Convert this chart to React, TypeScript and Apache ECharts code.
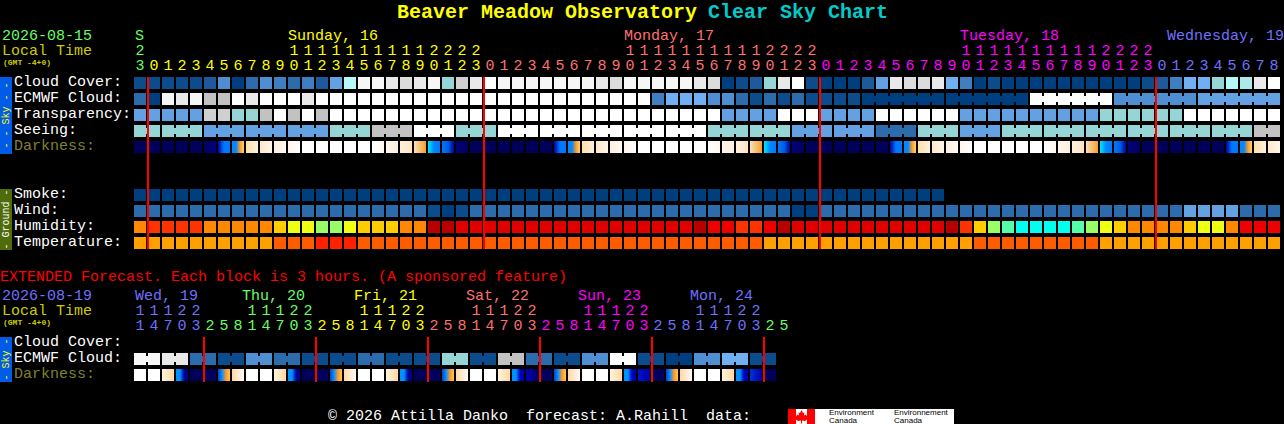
import React, { useEffect, useRef } from "react";
import * as echarts from "echarts";

const MONO = '"Liberation Mono", "DejaVu Sans Mono", monospace';

// ---- colours by key ----
const palette: Record<string, string> = {
  a: "#003f7f", b: "#0d4c8c", q: "#1c5a9b", c: "#2c6cad", d: "#3f7fc1", e: "#4f8fd1", f: "#63a1e3", g: "#70b0f2",
  t: "#95d5d5", u: "#ade9e9", h: "#b4f8f8", w: "#ffffff", x: "#f6f6f6", y: "#e9e9e9", z: "#dcdcdc", s: "#c2c2c2", v: "#d0d0d0",
  R: "#ff3300", O: "#ff8800", G: "#ffcc00", L: "#eeff11", K: "#99ff66", M: "#55ffaa", N: "#00ffee", E: "#e00000", F: "#ee0000", D: "#b80000",
  T: "#ffa000", U: "#ff5c00", V: "#ff2000",
};
const gradients: Record<string, string[]> = {
  n: ["#00005a"], m: ["#00005a", "#000085"], p: ["#0000a0", "#0078ff", "#0078ff"],
  r: ["#0088ff", "#0088ff", "#ff9a20", "#ffd080"], A: ["#ffe0a8", "#fff0dc"], B: ["#ffe8c8", "#fff6ea"], C: ["#fff0dc", "#fffaf4"], P: ["#fff6ec", "#ffffff"],
  W: ["#ffffff"], Q: ["#ffffff", "#fff8f0"], S: ["#fff6ec", "#ffefd8"], H: ["#fff0dc", "#ffe4c0"], I: ["#ffe0b0", "#f0a030"],
  J: ["#00e8f0", "#0088ff", "#0078ff"], X: ["#0078ff", "#0060e0", "#0000a0"], Y: ["#000080", "#00005a"],
  Z: ["#fff2e0", "#ffd8a0"], o: ["#0090ff", "#0090ff", "#0000a0", "#000080"], k: ["#0040e0", "#0090ff", "#ff9a20", "#ffc060"], l: ["#ffd8a8", "#fffaf4"],
  i: ["#0090ff", "#0090ff", "#0000c0", "#0000a0"], j: ["#0000c0", "#000060"], ka: ["#0010d0", "#0000a0"], kb: ["#0030e0", "#0000a0"],
};

// ---- hourly forecast ----
const hours = [23, 0, 1, 2, 3, 4, 5, 6, 7, 8, 9, 10, 11, 12, 13, 14, 15, 16, 17, 18, 19, 20, 21, 22, 23, 0, 1, 2, 3, 4, 5, 6, 7, 8, 9, 10, 11, 12, 13, 14, 15, 16, 17, 18, 19, 20, 21, 22, 23, 0, 1, 2, 3, 4, 5, 6, 7, 8, 9, 10, 11, 12, 13, 14, 15, 16, 17, 18, 19, 20, 21, 22, 23, 0, 1, 2, 3, 4, 5, 6, 7, 8];
const hourDays = ["sat", "sun", "sun", "sun", "sun", "sun", "sun", "sun", "sun", "sun", "sun", "sun", "sun", "sun", "sun", "sun", "sun", "sun", "sun", "sun", "sun", "sun", "sun", "sun", "sun", "mon", "mon", "mon", "mon", "mon", "mon", "mon", "mon", "mon", "mon", "mon", "mon", "mon", "mon", "mon", "mon", "mon", "mon", "mon", "mon", "mon", "mon", "mon", "mon", "tue", "tue", "tue", "tue", "tue", "tue", "tue", "tue", "tue", "tue", "tue", "tue", "tue", "tue", "tue", "tue", "tue", "tue", "tue", "tue", "tue", "tue", "tue", "tue", "wed", "wed", "wed", "wed", "wed", "wed", "wed", "wed", "wed"];
const dayColors: Record<string, string> = { sat: "#66ff66", sun: "#ffff00", mon: "#ff7070", tue: "#ff00ff", wed: "#7070ff" };
const rowLabels = ["Cloud Cover:", "ECMWF Cloud:", "Transparency:", "Seeing:", "Darkness:", "", "", "Smoke:", "Wind:", "Humidity:", "Temperature:"];

const cloudCover = ["b","b","b","b","b","q","e","a","c","e","d","c","d","q","f","h","x","x","y","z","y","x","t","v","y","w","x","x","x","x","x","x","x","y","z","x","x","x","x","x","y","z","a","b","q","t","y","w","b","a","a","a","q","f","y","z","z","y","g","d","a","b","a","a","a","a","a","a","a","a","a","a","b","q","d","g","g","t","h","u","y","w"];
const ecmwfCloud = ["c","a","x","y","x","s","s","w","y","w","w","w","y","w","w","w","w","w","w","w","w","w","w","w","w","w","w","w","w","w","w","w","w","w","w","w","w","d","g","g","g","e","e","c","b","c","b","c","b","b","b","b","a","a","a","a","a","a","a","a","a","a","a","a","w","w","w","w","w","w","e","e","e","e","e","e","f","f","f","f","f","f"];
const ecmwfBlocks = [1,1,1,1,1,1,1,1,1,1,1,1,1,1,1,1,1,1,1,1,1,1,1,1,1,1,1,1,1,1,1,1,1,1,1,1,1,1,1,1,1,1,1,1,1,1,1,1,1,1,1,1,6,6,6,6,6];
const transparency = ["f","f","f","f","f","v","v","t","t","s","w","s","w","s","w","w","w","w","w","w","w","w","w","w","w","w","w","w","w","w","w","w","w","w","w","w","w","w","w","w","w","w","f","f","f","f","w","w","w","f","f","f","f","w","w","w","w","w","w","f","f","f","f","f","f","f","f","f","f","t","t","t","t","t","t","w","w","w","w","w","w","w"];
const seeing = ["t","t","t","t","t","f","f","f","f","f","f","f","f","f","t","t","t","s","s","s","w","w","w","t","t","t","w","w","w","w","w","w","w","w","w","w","w","w","w","w","w","t","t","t","t","t","t","f","f","f","f","f","f","c","c","c","t","t","t","f","f","f","t","t","t","t","t","t","t","t","t","t","t","t","t","t","t","t","t","t","s","s"];
const seeingBlocks = [2,3,3,3,3,3,3,3,3,3,3,3,3,3,3,3,3,3,3,3,3,3,3,3,3,3,3,2];
const darkness = ["n","n","n","n","n","m","p","r","A","B","C","P","W","W","W","W","W","Q","S","H","I","J","X","Y","n","n","n","n","n","n","p","r","A","B","C","P","W","W","W","W","W","Q","S","H","I","J","X","Y","n","n","n","n","n","n","p","r","A","B","C","P","W","W","W","W","W","Q","S","H","I","J","X","Y","n","n","n","n","n","n","p","r","A","B"];
const smoke = ["a","a","a","a","a","a","a","a","a","a","a","a","a","a","a","a","a","a","a","a","a","a","a","a","a","a","a","a","a","a","a","a","a","a","a","a","a","a","a","a","a","a","a","a","a","a","a","a","a","a","a","a","a","a","a","a","a","a"];
const wind = ["c","c","c","c","c","c","c","c","c","c","c","c","c","c","c","c","c","c","c","c","c","b","a","b","c","c","c","c","c","c","c","c","c","c","c","c","c","c","c","c","c","c","c","c","c","c","c","a","a","c","c","c","c","c","c","c","c","c","c","c","c","c","c","c","c","c","c","c","c","c","c","c","c","c","c","f","f","f","f","c","c","c"];
const humidity = ["O","R","R","R","R","O","O","O","O","O","G","L","L","K","K","L","G","G","G","O","O","D","D","E","E","E","E","E","E","E","E","E","E","E","E","E","E","E","E","E","D","F","F","R","R","F","D","E","E","E","E","E","E","E","E","E","E","E","D","R","G","K","M","N","N","N","N","M","K","L","G","O","O","O","O","G","L","L","O","F","F","F"];
const temperature = ["T","T","T","T","T","T","T","T","T","T","U","U","U","V","V","V","U","U","U","U","U","U","U","U","U","U","U","U","U","U","U","U","U","U","U","U","U","U","U","U","U","U","U","U","U","T","T","T","T","T","T","T","T","T","T","T","T","T","T","T","U","U","U","U","U","U","U","U","U","T","T","T","T","T","T","T","T","T","T","T","T","T"];
const midnightColumns = [1, 25, 49, 73];

// ---- extended forecast ----
const extHours = [11, 14, 17, 20, 23, 2, 5, 8, 11, 14, 17, 20, 23, 2, 5, 8, 11, 14, 17, 20, 23, 2, 5, 8, 11, 14, 17, 20, 23, 2, 5, 8, 11, 14, 17, 20, 23, 2, 5, 8, 11, 14, 17, 20, 23, 2, 5];
const extDays = ["wed","wed","wed","wed","wed","sat","sat","sat","sat","sat","sat","sat","sat","sun","sun","sun","sun","sun","sun","sun","sun","mon","mon","mon","mon","mon","mon","mon","mon","tue","tue","tue","tue","tue","tue","tue","tue","wed","wed","wed","wed","wed","wed","wed","wed","sat","sat"];
const extRowLabels = ["Cloud Cover:", "ECMWF Cloud:", "Darkness:"];
const extEcmwf = ["x","x","y","y","c","c","b","b","e","e","c","c","b","b","b","b","c","c","b","b","b","b","t","t","b","b","s","s","c","c","b","b","e","e","w","w","b","b","a","a","e","e","g","g","b","b"];
const extBlocks = [2,2,2,2,2,2,2,2,2,2,2,2,2,2,2,2,2,2,2,2,2,2,2];
const extDarkness = ["W","W","Z","o","n","n","k","l","W","W","Z","o","n","n","k","l","W","W","Z","o","n","n","k","l","W","W","Z","i","j","n","k","l","W","W","Z","i","ka","n","k","l","W","W","Z","i","kb","n"];
const extMidnightColumns = [5, 13, 21, 29, 37, 45];

// ---- header texts ----
const dayHeaders = [
  { text: "S", x: 135, key: "sat" }, { text: "Sunday, 16", x: 288, key: "sun" }, { text: "Monday, 17", x: 624, key: "mon" },
  { text: "Tuesday, 18", x: 960, key: "tue" }, { text: "Wednesday, 19", x: 1167, key: "wed" },
];
const extDayHeaders = [
  { text: "Wed, 19", x: 135, key: "wed" }, { text: "Thu, 20", x: 242, key: "sat" }, { text: "Fri, 21", x: 354, key: "sun" },
  { text: "Sat, 22", x: 466, key: "mon" }, { text: "Sun, 23", x: 578, key: "tue" }, { text: "Mon, 24", x: 690, key: "wed" },
];

type Cell = { col: number; row: number; stops: string[]; join: boolean };

function joinsFrom(blocks: number[] | null): Set<number> {
  const out = new Set<number>();
  if (!blocks) return out;
  let pos = 0;
  for (const size of blocks) {
    for (let i = 0; i < size - 1; i++) out.add(pos + i);
    pos += size;
  }
  return out;
}

function rowCells(row: number, keys: string[], blocks: number[] | null = null): Cell[] {
  const joined = joinsFrom(blocks);
  return keys.map((key, col) => ({ col, row, stops: [palette[key]], join: joined.has(col) }));
}
function darkCells(row: number, keys: string[]): Cell[] {
  return keys.map((key, col) => ({ col, row, stops: gradients[key], join: false }));
}

const mainCells: Cell[] = [
  ...rowCells(0, cloudCover),
  ...rowCells(1, ecmwfCloud, ecmwfBlocks),
  ...rowCells(2, transparency),
  ...rowCells(3, seeing, seeingBlocks),
  ...darkCells(4, darkness),
  ...rowCells(7, smoke),
  ...rowCells(8, wind),
  ...rowCells(9, humidity),
  ...rowCells(10, temperature),
];
const extCells: Cell[] = [...rowCells(1, extEcmwf, extBlocks), ...darkCells(2, extDarkness)];

function fillOf(stops: string[]) {
  if (stops.length === 1) return stops[0];
  return new echarts.graphic.LinearGradient(0, 0, 1, 0, stops.map((color, i) => ({ offset: i / (stops.length - 1), color })));
}

function cellSeries(cells: Cell[], gridIndex: number) {
  return {
    type: "custom",
    xAxisIndex: gridIndex,
    yAxisIndex: gridIndex,
    silent: true,
    clip: false,
    z: 2,
    data: cells.map((c) => [c.col, c.row]),
    encode: { x: 0, y: 1 },
    renderItem: (params: any, api: any) => {
      const cell = cells[params.dataIndex];
      const [cx, cy] = api.coord([api.value(0), api.value(1)]);
      const fill = fillOf(cell.stops);
      const children: any[] = [{ type: "rect", z2: 1, shape: { x: cx - 6, y: cy - 7, width: 12, height: 12 }, style: { fill } }];
      if (cell.join) {
        children.push({ type: "rect", z2: 1, shape: { x: cx + 6, y: cy - 4, width: 2, height: 6 }, style: { fill: cell.stops[cell.stops.length - 1] } });
      }
      return { type: "group", children };
    },
  };
}

function midnightSeries(columns: number[], gridIndex: number, topRow: number, bottomRow: number, topPad: number, bottomPad: number) {
  return {
    type: "custom",
    xAxisIndex: gridIndex,
    yAxisIndex: gridIndex,
    silent: true,
    clip: false,
    z: 20,
    data: columns.map((c) => [c, topRow]),
    encode: { x: 0, y: 1 },
    renderItem: (_: any, api: any) => {
      const [cx, cy] = api.coord([api.value(0), topRow]);
      const [, by] = api.coord([api.value(0), bottomRow]);
      const top = cy - 8 + topPad;
      const bottom = by + 8 - bottomPad;
      return { type: "rect", z2: 100, shape: { x: cx - 7, y: top, width: 2, height: bottom - top }, style: { fill: "#ff0000" } };
    },
  };
}

function label(text: string, x: number, y: number, fill: string, font = `15px ${MONO}`) {
  return { type: "text", x, y, silent: true, style: { text, fill, font, textVerticalAlign: "middle", verticalAlign: "middle" } };
}
function sideBar(top: number, height: number, fill: string, text: string, textFill: string) {
  return [
    { type: "rect", x: 0, y: top, silent: true, shape: { width: 12, height }, style: { fill } },
    {
      type: "text",
      x: 6,
      y: top + height / 2,
      rotation: Math.PI / 2,
      silent: true,
      z: 3,
      style: { text, fill: textFill, font: `10px ${MONO}`, align: "center", textAlign: "center", verticalAlign: "middle", textVerticalAlign: "middle" },
    },
  ];
}

const xAxisFor = (gridIndex: number, values: number[], days: string[]) => ({
  type: "category",
  gridIndex,
  position: "top",
  data: values.map(String),
  axisLine: { show: false },
  axisTick: { show: false },
  splitLine: { show: false },
  axisLabel: {
    show: true,
    interval: 0,
    hideOverlap: false,
    margin: 2,
    fontFamily: MONO,
    fontSize: 15,
    lineHeight: 15,
    formatter: (v: string) => (v.length > 1 ? `${v[0]}\n${v[1]}` : v),
    color: (_: any, i: number) => dayColors[days[i]],
  },
});
const yAxisFor = (gridIndex: number, labels: string[]) => ({
  type: "category",
  gridIndex,
  inverse: true,
  data: labels,
  axisLine: { show: false },
  axisTick: { show: false },
  splitLine: { show: false },
  axisLabel: {
    show: true,
    interval: 0,
    hideOverlap: false,
    margin: 119,
    align: "left",
    fontFamily: MONO,
    fontSize: 15,
    formatter: (v: string) => (v ? `{t|${v}}` : ""),
    rich: { t: { padding: [0, 0, 4, 0], fontFamily: MONO, fontSize: 15 } },
    color: (v: string) => (v === "Darkness:" ? "#808030" : "#ffffff"),
  },
});

const maple = [
  [801.5, 410], [803, 413], [804.5, 412.5], [804, 415.5], [806, 414.5], [806.5, 416], [808.5, 415.5], [807.5, 418], [808.5, 418.5], [805, 421], [802, 420.5], [802, 423.5],
  [801, 423.5], [801, 420.5], [798, 421], [794.5, 418.5], [795.5, 418], [794.5, 415.5], [796.5, 416], [797, 414.5], [799, 415.5], [798.5, 412.5], [800, 413],
];

export default function App() {
  const ref = useRef<HTMLDivElement>(null);
  useEffect(() => {
    document.body.style.margin = "0";
    document.body.style.background = "#000";
    const chart = echarts.init(ref.current!, undefined, { renderer: "svg" });
    chart.setOption({
      animation: false,
      backgroundColor: "#000000",
      grid: [
        { left: 133, top: 76, width: 1148, height: 176, containLabel: false },
        { left: 133, top: 336, width: 658, height: 48, containLabel: false },
      ],
      xAxis: [xAxisFor(0, hours, hourDays), xAxisFor(1, extHours, extDays)],
      yAxis: [yAxisFor(0, rowLabels), yAxisFor(1, extRowLabels)],
      series: [
        cellSeries(mainCells, 0),
        cellSeries(extCells, 1),
        midnightSeries(midnightColumns, 0, 0, 10, 1, 3),
        midnightSeries(extMidnightColumns, 1, 0, 2, 1, 2),
      ],
      graphic: [
        label("Beaver Meadow Observatory", 397, 12, "#ffff00", `bold 20px ${MONO}`),
        label("Clear Sky Chart", 708, 12, "#00cccc", `bold 20px ${MONO}`),
        label("2026-08-15", 2, 36, "#66ff66"),
        label("Local Time", 2, 51, "#cccc00"),
        label("(GMT -4+0)", 3, 62, "#cccc00", `bold 8px ${MONO}`),
        ...dayHeaders.map((d) => label(d.text, d.x, 36, dayColors[d.key])),
        ...sideBar(77, 77, "#005ce6", "- - Sky - -", "#ffff00"),
        ...sideBar(189, 61, "#4f6b0a", "- Ground -", "#ffffff"),
        label("EXTENDED Forecast. Each block is 3 hours. (A sponsored feature)", 0, 277, "#ff0000"),
        label("2026-08-19", 2, 296, "#7070ff"),
        label("Local Time", 2, 311, "#cccc00"),
        label("(GMT -4+0)", 3, 322, "#cccc00", `bold 8px ${MONO}`),
        ...extDayHeaders.map((d) => label(d.text, d.x, 296, dayColors[d.key])),
        ...sideBar(337, 45, "#005ce6", "- Sky -", "#ffff00"),
        label("\u00a9 2026 Attilla Danko  forecast: A.Rahill  data:", 328, 416, "#ffffff"),
        { type: "rect", x: 788, y: 409, silent: true, shape: { width: 166, height: 15 }, style: { fill: "#ffffff" } },
        { type: "rect", x: 788, y: 409, silent: true, shape: { width: 8, height: 15 }, style: { fill: "#ff0000" } },
        { type: "rect", x: 807, y: 409, silent: true, shape: { width: 8, height: 15 }, style: { fill: "#ff0000" } },
        { type: "polygon", silent: true, shape: { points: maple }, style: { fill: "#ff0000" } },
        label("Environment", 829, 412, "#000000", `8px "Liberation Sans"`),
        label("Canada", 829, 420, "#000000", `8px "Liberation Sans"`),
        label("Environnement", 894, 412, "#000000", `8px "Liberation Sans"`),
        label("Canada", 894, 420, "#000000", `8px "Liberation Sans"`),
      ],
    });
    return () => chart.dispose();
  }, []);
  return <div ref={ref} style={{ width: 1284, height: 424, overflow: "hidden" }} />;
}
